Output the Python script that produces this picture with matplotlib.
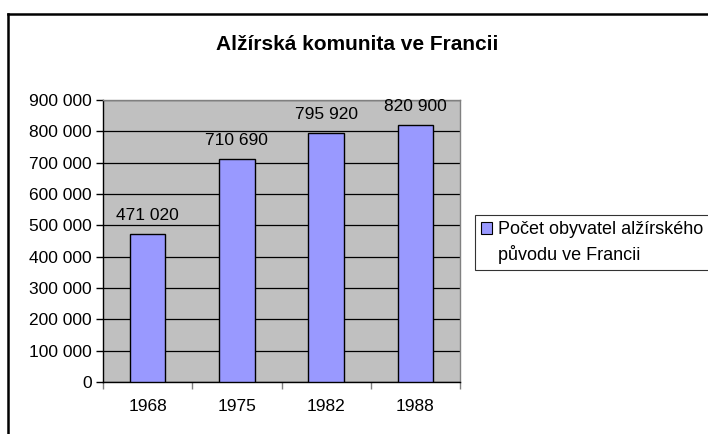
import matplotlib
matplotlib.use("Agg")
import matplotlib.pyplot as plt
from matplotlib.lines import Line2D
from matplotlib.patches import Patch
import matplotlib.ticker as mticker

years = ["1968", "1975", "1982", "1988"]
population = [471020, 710690, 795920, 820900]
series_label = ["Počet obyvatel alžírského", "původu ve Francii"]
title = "Alžírská komunita ve Francii"

_BAR = "#9999FF"
_BG = "#C0C0C0"

plt.rcParams["font.family"] = ["Liberation Sans", "DejaVu Sans"]

W, H = 708, 434
fig = plt.figure(figsize=(W / 100, H / 100), dpi=100)
fig.patch.set_facecolor("white")

# plot area in pixel coords: x 103..460, y 100..382
ax = fig.add_axes([103 / W, 1 - 382 / H, (460 - 103) / W, (382 - 100) / H])
ax.set_facecolor(_BG)

x = list(range(len(years)))
bars = ax.bar(x, population, width=0.4, color=_BAR, edgecolor="black",
              linewidth=1.0, zorder=3)

ax.set_xlim(-0.5, len(years) - 0.5)
ax.set_ylim(0, 900000)
ax.yaxis.set_major_locator(mticker.MultipleLocator(100000))
ax.yaxis.set_major_formatter(
    mticker.FuncFormatter(lambda v, _: f"{v:,.0f}".replace(",", " "))
)
ax.grid(axis="y", color="black", linewidth=0.9, zorder=1)
ax.set_axisbelow(True)

ax.set_xticks(x)
ax.set_xticklabels(years, fontsize=12.5)
ax.tick_params(axis="x", length=0, pad=12)
ax.set_xticks([i + 0.5 for i in range(-1, len(years))], minor=True)
ax.tick_params(axis="x", which="minor", length=5, width=1, color="#808080")
ax.tick_params(axis="y", labelsize=12.5, length=5, width=1, pad=3)

for s in ("top", "right"):
    ax.spines[s].set_color("#808080")
    ax.spines[s].set_linewidth(1.0)
for s in ("left", "bottom"):
    ax.spines[s].set_color("black")
    ax.spines[s].set_linewidth(1.0)

for xi, v in zip(x, population):
    ax.annotate(f"{v:,.0f}".replace(",", " "), (xi, v), xytext=(0, 8),
                textcoords="offset points", ha="center", va="bottom",
                fontsize=12.5)

fig.text(357 / W, 1 - 45 / H, title, ha="center", va="center",
         fontsize=15, fontweight="bold")

# marker sits beside the first line only, as in the original
handles = [Patch(facecolor=_BAR, edgecolor="black", linewidth=0.8),
           Patch(facecolor="none", edgecolor="none")]
leg = fig.legend(handles, series_label, loc="upper left",
                 bbox_to_anchor=(475 / W, 1 - 215 / H),
                 fontsize=13, frameon=True, fancybox=False, edgecolor="black",
                 handlelength=0.6, handleheight=0.6, handletextpad=0.3,
                 borderpad=0.35, borderaxespad=0, labelspacing=0.35)
leg.get_frame().set_linewidth(0.8)

# outer chart frame (only left and top edges visible)
fig.add_artist(Line2D([8 / W, 8 / W], [1 - 14 / H, 0], color="black",
                      linewidth=1.8, transform=fig.transFigure))
fig.add_artist(Line2D([8 / W, 1], [1 - 14 / H, 1 - 14 / H], color="black",
                      linewidth=1.8, transform=fig.transFigure))

fig.savefig("out.png", dpi=100, facecolor="white")
